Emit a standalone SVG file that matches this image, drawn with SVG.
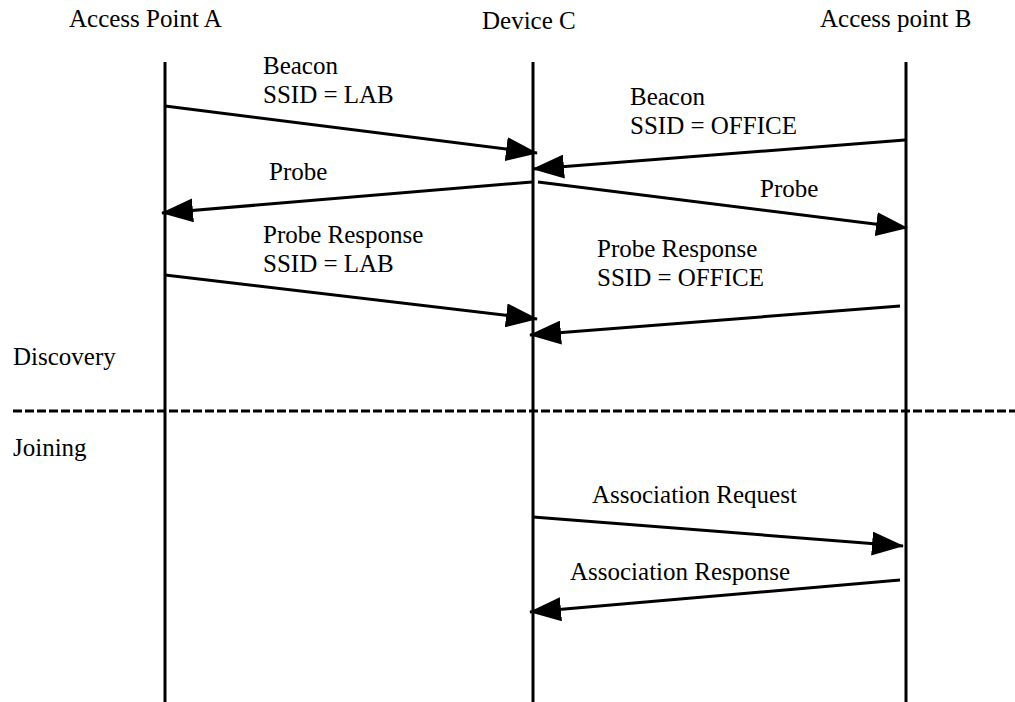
<svg xmlns="http://www.w3.org/2000/svg" width="1015" height="702" viewBox="0 0 1015 702">
<style>
text{font-family:"Liberation Serif","Times New Roman",serif;font-size:25px;fill:#000}
.life{stroke:#000;stroke-width:3;fill:none}
.msg{stroke:#000;stroke-width:3;fill:none;marker-end:url(#arr)}
.sep{stroke:#000;stroke-width:3;stroke-dasharray:9 3;fill:none}
</style>
<defs>
<marker id="arr" markerUnits="userSpaceOnUse" viewBox="0 0 32 24" markerWidth="32" markerHeight="24" refX="31" refY="12" orient="auto">
<path d="M0,0 L32,12 L0,24 z" fill="#000"/>
</marker>
</defs>
<rect width="1015" height="702" fill="#fff"/>
<g id="access-point-a">
<text x="69" y="27">Access Point A</text>
<line class="life" x1="165" y1="62" x2="165" y2="702"/>
</g>
<g id="device-c">
<text x="482" y="29">Device C</text>
<line class="life" x1="533" y1="62" x2="533" y2="702"/>
</g>
<g id="access-point-b">
<text x="820" y="27">Access point B</text>
<line class="life" x1="906" y1="62" x2="906" y2="702"/>
</g>
<g id="phases">
<line class="sep" x1="13" y1="411" x2="1015" y2="411"/>
<text x="13" y="365">Discovery</text>
<text x="13" y="456">Joining</text>
</g>
<g id="connectors">
<path class="msg" d="M165,106 L537,153"/>
<path class="msg" d="M905,140 L533,169"/>
<path class="msg" d="M532,182 L162,213"/>
<path class="msg" d="M538,182 L907,228"/>
<path class="msg" d="M165,275 L537,319"/>
<path class="msg" d="M900,306 L530,335"/>
<path class="msg" d="M533,517 L903,546"/>
<path class="msg" d="M900,580 L530,612"/>
</g>
<g id="labels">
<text x="263" y="74">Beacon</text>
<text x="263" y="103">SSID = LAB</text>
<text x="630" y="105">Beacon</text>
<text x="630" y="134">SSID = OFFICE</text>
<text x="269" y="180">Probe</text>
<text x="760" y="197">Probe</text>
<text x="263" y="243">Probe Response</text>
<text x="263" y="272">SSID = LAB</text>
<text x="597" y="257">Probe Response</text>
<text x="597" y="286">SSID = OFFICE</text>
<text x="592" y="503">Association Request</text>
<text x="570" y="580">Association Response</text>
</g>
</svg>
